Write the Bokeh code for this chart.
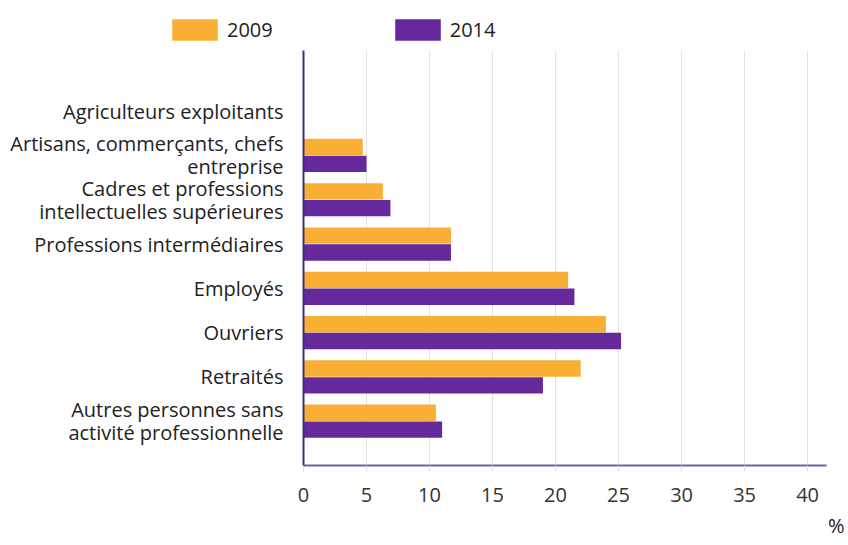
from bokeh.plotting import figure
from bokeh.models import (ColumnDataSource, Range1d, FixedTicker, Legend, LegendItem, Title)
from bokeh.transform import dodge
from bokeh.embed import file_html
from bokeh.resources import INLINE

categories = [
    "Agriculteurs exploitants",
    "Artisans, commerçants, chefs\nentreprise",
    "Cadres et professions\nintellectuelles supérieures",
    "Professions intermédiaires",
    "Employés",
    "Ouvriers",
    "Retraités",
    "Autres personnes sans\nactivité professionnelle",
]
v2009 = [0, 4.7, 6.3, 11.7, 21.0, 24.0, 22.0, 10.5]
v2014 = [0, 5.0, 6.9, 11.7, 21.5, 25.2, 19.0, 11.0]
x_ticks = [0, 5, 10, 15, 20, 25, 30, 35, 40]
series_names = ["2009", "2014"]

ORANGE = "#F8AF34"
PURPLE = "#65299B"
FONT = "Open Sans"

pos = [-i for i in range(len(categories))]
src = ColumnDataSource(dict(y=pos, v2009=v2009, v2014=v2014))

# ---- legend strip (separate root so its frame spans the full width) ----
lg = figure(width=848, height=50, output_backend="svg", toolbar_location=None,
            x_range=Range1d(0, 1), y_range=Range1d(0, 1),
            x_axis_location=None, y_axis_location=None,
            min_border_left=0, min_border_right=0, min_border_top=8, min_border_bottom=0)
lg.outline_line_color = None
lg.grid.visible = False
# zero-length swatches used only as legend keys
l1 = lg.hbar(y=[0], right=[0], left=[0], height=0, fill_color=ORANGE, line_color=None)
l2 = lg.hbar(y=[0], right=[0], left=[0], height=0, fill_color=PURPLE, line_color=None)
legend = Legend(items=[LegendItem(label=series_names[0], renderers=[l1]),
                       LegendItem(label=series_names[1], renderers=[l2])],
                orientation="horizontal", location=(166, 7), margin=0,
                glyph_width=57, glyph_height=27, label_standoff=4, spacing=116,
                padding=0, border_line_color=None, background_fill_alpha=0,
                label_text_font=FONT, label_text_font_size="20px", label_text_color="#222222")
lg.add_layout(legend, "center")

# ---- main chart ----
p = figure(width=848, height=495, output_backend="svg", toolbar_location=None,
           x_range=Range1d(0, 41.5), y_range=Range1d(-8, 1.37),
           min_border_left=303, min_border_right=22, min_border_top=0, min_border_bottom=80)
p.outline_line_color = None
p.background_fill_color = "white"

p.hbar(y=dodge("y", 0.19, range=p.y_range), right="v2009", left=0, height=0.37,
       source=src, fill_color=ORANGE, line_color=None)
p.hbar(y=dodge("y", -0.19, range=p.y_range), right="v2014", left=0, height=0.37,
       source=src, fill_color=PURPLE, line_color=None)

xa = p.xaxis[0]
xa.ticker = FixedTicker(ticks=x_ticks)
xa.axis_line_color = "#6E5FAE"
xa.axis_line_width = 2
xa.major_tick_in = 0
xa.major_tick_out = 6
xa.major_tick_line_color = "#DADADA"
xa.minor_tick_line_color = None
xa.major_label_standoff = 16
xa.major_label_text_font = FONT
xa.major_label_text_font_size = "20px"
xa.major_label_text_color = "#333333"

ya = p.yaxis[0]
ya.ticker = FixedTicker(ticks=pos)
ya.major_label_overrides = {y: c for y, c in zip(pos, categories)}
ya.axis_line_color = "#40307A"
ya.axis_line_width = 2
ya.major_tick_line_color = None
ya.minor_tick_line_color = None
ya.major_label_standoff = 14
ya.major_label_text_font = FONT
ya.major_label_text_font_size = "20px"
ya.major_label_text_color = "#222222"
ya.major_label_text_line_height = 0.85

p.xgrid.ticker = FixedTicker(ticks=x_ticks)
p.xgrid.grid_line_color = "#E2E2E2"
p.ygrid.grid_line_color = None

p.add_layout(Title(text="%", align="right", offset=-18, text_font=FONT, text_font_size="20px",
                   text_font_style="normal", text_color="#222222", standoff=10), "below")

open("out.html", "w").write(file_html([lg, p], INLINE))
